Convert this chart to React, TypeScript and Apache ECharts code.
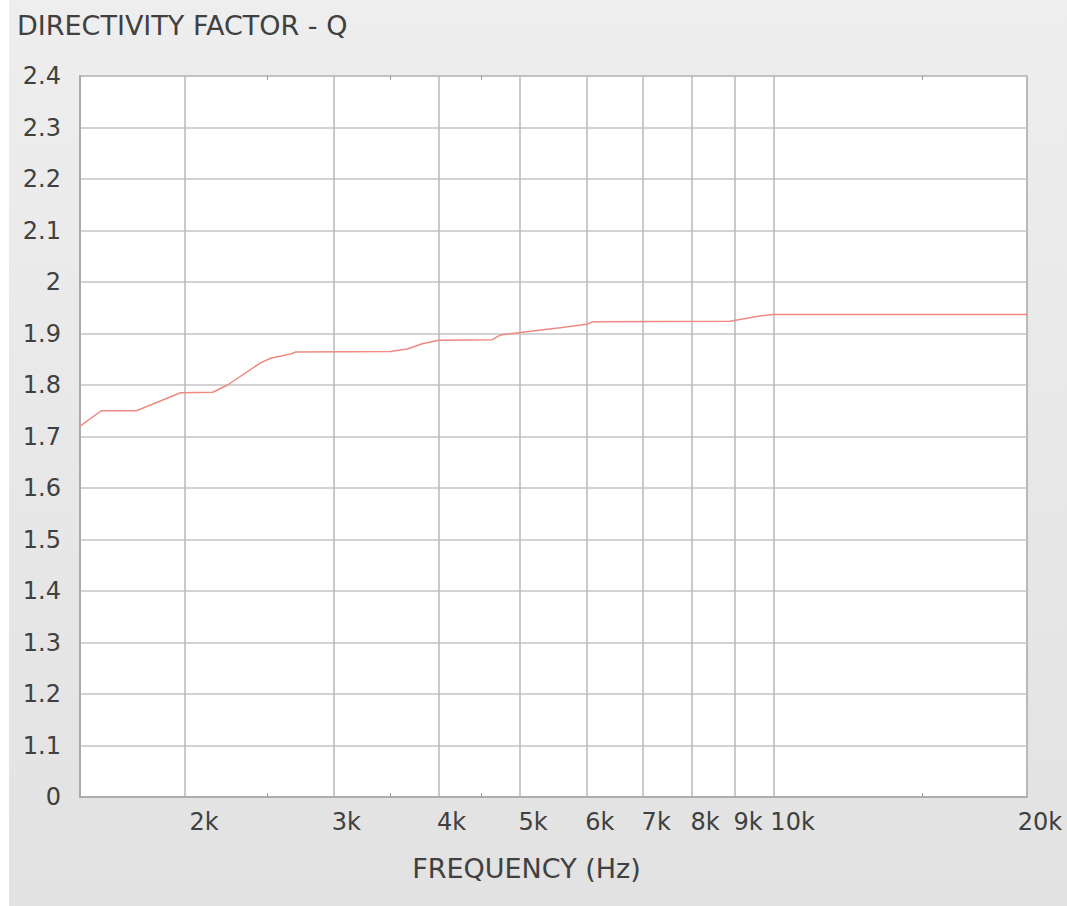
import React, { useEffect, useRef } from "react";
import * as echarts from "echarts";

// Frequency (Hz) and directivity factor Q
const freqs = [1500, 1590, 1750, 1975, 2156, 2246, 2458, 2527, 2668, 2705, 3507, 3672, 3826, 4000, 4632, 4734, 5000, 5578, 6000, 6104, 8874, 9553, 9978, 20000];
const qValues = [1.72, 1.75, 1.75, 1.785, 1.786, 1.8, 1.843, 1.852, 1.86, 1.864, 1.865, 1.87, 1.88, 1.887, 1.888, 1.897, 1.902, 1.911, 1.918, 1.923, 1.924, 1.933, 1.937, 1.937];

const gridFreqs = [2000, 3000, 4000, 5000, 6000, 7000, 8000, 9000, 10000];
const labelFreqs = [2000, 3000, 4000, 5000, 6000, 7000, 8000, 9000, 10000, 20000];
const labelTexts = ["2k", "3k", "4k", "5k", "6k", "7k", "8k", "9k", "10k", "20k"];
const minorTickFreqs = [2500, 3500, 4500, 15000];

const FONT = "DejaVu Sans";
const TEXT = "#404040";

export default function App() {
  const ref = useRef<HTMLDivElement>(null);
  useEffect(() => {
    if (!ref.current) return;
    const chart = echarts.init(ref.current, undefined, { renderer: "svg" });
    const data = freqs.map((f, i) => [f, qValues[i]]);
    const logBase = {
      type: "log" as const,
      logBase: 10,
      min: 1500,
      max: 20000,
    };
    chart.setOption({
      animation: false,
      title: {
        text: "DIRECTIVITY FACTOR - Q",
        left: 3,
        top: 7,
        textStyle: { fontFamily: FONT, fontSize: 27, fontWeight: "normal", color: TEXT },
      },
      grid: {
        left: 71,
        right: 40,
        top: 76,
        bottom: 109,
        show: true,
        backgroundColor: "#ffffff",
        borderColor: "#a6a6a6",
        borderWidth: 1.5,
      },
      xAxis: [
        {
          ...logBase,
          position: "bottom",
          name: "FREQUENCY (Hz)",
          nameLocation: "middle",
          nameGap: 58,
          nameTextStyle: { fontFamily: FONT, fontSize: 27, color: TEXT, padding: [0, 54, 0, 0] },
          axisLine: { show: true, lineStyle: { color: "#a6a6a6", width: 1.5 } },
          axisTick: {
            show: true,
            inside: true,
            length: 4,
            customValues: minorTickFreqs,
            lineStyle: { color: "#999999", width: 1 },
          },
          axisLabel: {
            customValues: labelFreqs,
            formatter: (v: number) => {
              const i = labelFreqs.findIndex((f) => Math.abs(f - v) < 1);
              if (i < 0) return "";
              const t = labelTexts[i];
              return t === "10k" || t === "2k" ? "{w|" + t + "}" : t;
            },
            rich: {
              w: { fontFamily: FONT, fontSize: 24, color: TEXT, padding: [0, 0, 0, 12] },
            },
            fontFamily: FONT,
            fontSize: 24,
            color: TEXT,
            margin: 13,
            align: "center",
            padding: [0, 0, 0, 26],
          },
          splitLine: { show: false },
        },
        {
          ...logBase,
          position: "top",
          axisLine: { show: false },
          axisTick: {
            show: true,
            inside: true,
            length: 4,
            customValues: minorTickFreqs,
            lineStyle: { color: "#999999", width: 1 },
          },
          axisLabel: { show: false },
          splitLine: { show: false },
        },
        {
          ...logBase,
          position: "bottom",
          axisLine: { show: false },
          axisTick: { show: false, customValues: gridFreqs },
          axisLabel: { show: false },
          splitLine: { show: true, lineStyle: { color: "#b8b8b8", width: 1.5 } },
        },
      ],
      yAxis: {
        type: "value",
        min: 1.0,
        max: 2.4,
        interval: 0.1,
        axisLine: { show: true, lineStyle: { color: "#a6a6a6", width: 1.5 } },
        axisTick: { show: false },
        axisLabel: {
          formatter: (v: number) => (Math.abs(v - 1) < 1e-6 ? "0" : String(Number(v.toFixed(1)))),
          fontFamily: FONT,
          fontSize: 24,
          color: TEXT,
          margin: 19,
        },
        splitLine: { show: true, lineStyle: { color: "#c4c4c4", width: 1.5 } },
      },
      series: [
        {
          type: "line",
          xAxisIndex: 0,
          yAxisIndex: 0,
          data,
          showSymbol: false,
          symbol: "none",
          lineStyle: { color: "#ef8a80", width: 1.5 },
          silent: true,
        },
      ],
    });
    return () => chart.dispose();
  }, []);
  return (
    <div style={{ position: "fixed", left: 0, top: 0, width: 1067, height: 906, background: "#ffffff" }}>
      <div
        ref={ref}
        style={{
          position: "absolute",
          left: 9,
          top: 0,
          width: 1058,
          height: 906,
          background: "linear-gradient(#eeeeee, #e2e2e2)",
        }}
      />
    </div>
  );
}
